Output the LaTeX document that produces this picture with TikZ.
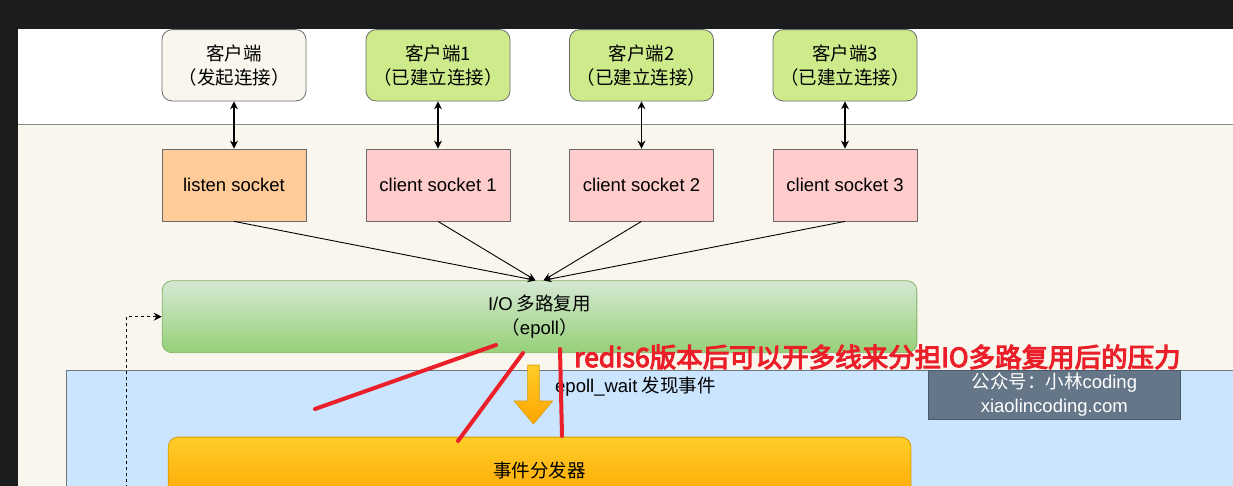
\documentclass[tikz,border=0pt]{standalone}
\usepackage{fontspec}
\setmainfont{Liberation Sans}
\newfontfamily\lat{Liberation Sans}
\newfontfamily\cjk{Noto Sans CJK SC}
\newfontfamily\cjkheavy[FakeBold=4]{Noto Sans CJK SC}
\usetikzlibrary{arrows.meta,calc}

\definecolor{darkbg}{HTML}{1B1C1E}
\definecolor{beige}{HTML}{F9F7ED}
\definecolor{boxline}{HTML}{6B6B6B}
\definecolor{sepline}{HTML}{8A8A8A}
\definecolor{greenfill}{HTML}{CDEB8B}
\definecolor{pinkfill}{HTML}{FFCCCC}
\definecolor{orangefill}{HTML}{FFCC99}
\definecolor{iotop}{HTML}{D5E8D4}
\definecolor{iobot}{HTML}{97D077}
\definecolor{ioline}{HTML}{82B366}
\definecolor{bluefill}{HTML}{CCE5FF}
\definecolor{blueline}{HTML}{6F7680}
\definecolor{yeltop}{HTML}{FFCD28}
\definecolor{yelbot}{HTML}{FFA500}
\definecolor{yelline}{HTML}{D79B00}
\definecolor{wmfill}{HTML}{647687}
\definecolor{wmline}{HTML}{4A5A6A}
\definecolor{redmark}{HTML}{EA1F2A}

\begin{document}
\begin{tikzpicture}[x=1pt,y=-1pt,
  clientbox/.style={draw=boxline, line width=0.8pt, rounded corners=10pt,
    minimum width=144pt, minimum height=71.3pt, inner sep=0pt, align=center,
    font=\cjk\fontsize{18.5}{24}\selectfont},
  sockbox/.style={draw=boxline, line width=0.8pt,
    minimum width=144pt, minimum height=72pt, inner sep=0pt,
    font=\lat\fontsize{18.5}{22}\selectfont},
  biarrow/.style={line width=1.2pt, {Stealth[length=8pt,width=8pt]}-{Stealth[length=8pt,width=8pt]}},
  conn/.style={line width=0.9pt, -{Stealth[length=8pt,width=7pt]}},
  redline/.style={draw=redmark, line width=4pt, line cap=round}
]
\useasboundingbox (0,0) rectangle (1233,486);
\clip (0,0) rectangle (1233,486);

% backgrounds
\fill[white] (0,0) rectangle (1233,486);
\fill[beige] (18,125) rectangle (1240,500);
\draw[sepline, line width=1pt] (18,125) -- (1240,125);
\fill[darkbg] (0,0) rectangle (1233,29);
\fill[darkbg] (0,0) rectangle (18,486);
\draw[blueline, line width=1pt, fill=bluefill] (66.7,370.7) rectangle (1240,500);

% clients
\node[clientbox, fill=beige] (c0) at (234,65.3) {客户端\\（发起连接）};
\node[clientbox, fill=greenfill] (c1) at (438,65.3) {客户端1\\（已建立连接）};
\node[clientbox, fill=greenfill] (c2) at (641.5,65.3) {客户端2\\（已建立连接）};
\node[clientbox, fill=greenfill] (c3) at (845,65.3) {客户端3\\（已建立连接）};

% sockets
\node[sockbox, fill=orangefill] (s0) at (234,185) {listen socket};
\node[sockbox, fill=pinkfill] (s1) at (438,185) {client socket 1};
\node[sockbox, fill=pinkfill] (s2) at (641.5,185) {client socket 2};
\node[sockbox, fill=pinkfill] (s3) at (845,185) {client socket 3};

\foreach \i in {0,1,2,3} { \draw[biarrow] (c\i.south) -- (s\i.north); }

% IO multiplexing
\node[draw=ioline, line width=0.8pt, rounded corners=10pt, top color=iotop, bottom color=iobot,
  minimum width=754.7pt, minimum height=72pt, inner sep=0pt, align=center,
  font=\cjk\fontsize{18.5}{24}\selectfont] (io) at (539.5,316.7)
  {{\lat I/O} 多路复用\\（{\lat epoll}）};

\draw[conn] (s0.south) -- ($(io.north)+(-4,0)$);
\draw[conn] (s1.south) -- ($(io.north)+(-4,0)$);
\draw[conn] (s2.south) -- ($(io.north)+(4,0)$);
\draw[conn] (s3.south) -- ($(io.north)+(4,0)$);

% dispatcher
\node[draw=yelline, line width=0.8pt, rounded corners=10pt, top color=yeltop, bottom color=yelbot,
  minimum width=742.7pt, minimum height=67pt, inner sep=0pt, anchor=north,
  font=\cjk\fontsize{18.5}{24}\selectfont] (disp) at (539.6,436.7) {事件分发器};

% dotted feedback arrow
\coordinate (dstart) at (126.7,500);
\draw[line width=1pt, dash pattern=on 3pt off 3pt, -{Stealth[length=8pt,width=8pt]}] (dstart) |- (io.west);

% orange block arrow
\path[draw=yelline, line width=0.6pt, top color=yeltop, bottom color=yelbot]
  (527.6,365) -- (539.2,365) -- (539.2,401) -- (552.7,401) -- (533.4,424)
  -- (514.2,401) -- (527.6,401) -- cycle;

% epoll_wait label
\node[anchor=west, inner sep=0pt, font=\cjk\fontsize{18.5}{22}\selectfont] (ew) at (555,387)
  {{\lat epoll\_wait} 发现事件};

% watermark
\node[draw=wmline, line width=0.8pt, fill=wmfill, text=white, minimum width=252.7pt,
  minimum height=48.3pt, inner sep=0pt, align=center,
  font=\cjk\fontsize{18.5}{24.3}\selectfont] (wm) at (1054.3,394.8)
  {公众号：小林{\lat coding}\\{\lat xiaolincoding.com}};

% red annotation
\draw[redline] (315,409) -- (496,345);
\draw[redline] (523,353) -- (458,441);
\draw[redline] (560,349) -- (562,436);
\node[anchor=west, inner sep=0pt, text=redmark, font=\cjkheavy\fontsize{26.5}{26.5}\selectfont] (note) at (574,357)
  {redis6版本后可以开多线来分担IO多路复用后的压力};
\end{tikzpicture}
\end{document}
